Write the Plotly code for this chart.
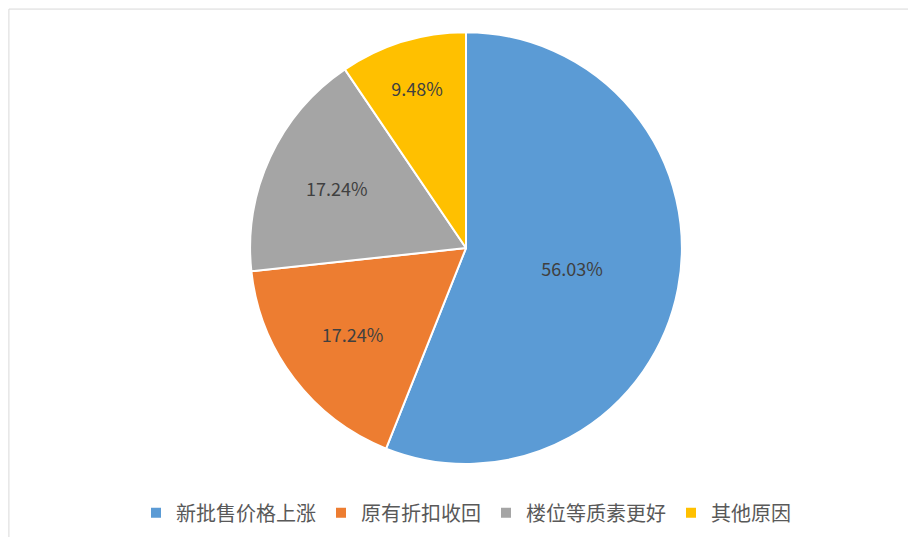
import plotly.graph_objects as go

labels = ["新批售价格上涨", "原有折扣收回", "楼位等质素更好", "其他原因"]
values = [56.03, 17.24, 17.24, 9.48]
colors = ["#5B9BD5", "#ED7D31", "#A5A5A5", "#FFC000"]

fig = go.Figure(go.Pie(
    labels=labels, values=values, sort=False, direction="clockwise", rotation=0,
    marker=dict(colors=colors, line=dict(color="white", width=2)),
    texttemplate="%{value:.2f}%", textposition="inside", insidetextorientation="horizontal",
    textfont=dict(size=18, color="#404040", family="Noto Sans CJK SC"),
    domain=dict(x=[0.264, 0.736], y=[0.151, 0.955]),
))
fig.update_layout(
    width=916, height=537, margin=dict(l=0, r=0, t=0, b=0),
    paper_bgcolor="white", font=dict(family="Noto Sans CJK SC"),
    legend=dict(orientation="h", x=0.5, xanchor="center", y=0.06, yanchor="middle",
                font=dict(size=20, color="#595959")),
    shapes=[dict(type="rect", xref="paper", yref="paper", x0=0.001, y0=0.002, x1=0.999, y1=0.998,
                 line=dict(color="#D9D9D9", width=1))],
)
fig.write_html("out.html")
